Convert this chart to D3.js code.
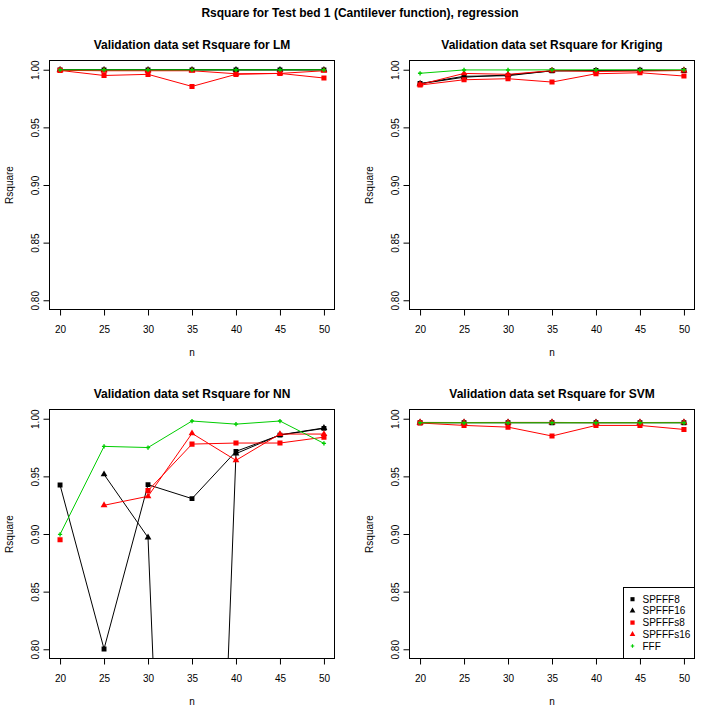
<!DOCTYPE html>
<html>
<head>
<meta charset="utf-8">
<script src="https://cdn.jsdelivr.net/npm/d3@7"></script>
<style>
  body { margin: 0; background: #fff; }
  svg { display: block; font-family: "Liberation Sans", Arial, sans-serif; }
</style>
</head>
<body>
<svg id="chart" width="720" height="720"></svg>
<script>
// x values (training sample size) and y ticks
const nValues = [20, 25, 30, 35, 40, 45, 50];
const yTicks = [0.80, 0.85, 0.90, 0.95, 1.00];

const seriesNames = ["SPFFF8", "SPFFF16", "SPFFFs8", "SPFFFs16", "FFF"];
const seriesColors = ["#000000", "#000000", "#ff0000", "#ff0000", "#00cd00"];

const mainTitle = "Rsquare for Test bed 1 (Cantilever function), regression";
const panelTitles = [
  "Validation data set Rsquare for LM",
  "Validation data set Rsquare for Kriging",
  "Validation data set Rsquare for NN",
  "Validation data set Rsquare for SVM"
];

// LM
const lmSPFFF8   = [0.9999, 0.9999, 0.9999, 0.9999, 0.9999, 0.9999, 0.9999];
const lmSPFFF16  = [0.9999, 0.9998, 0.9999, 0.9999, 0.9999, 0.9999, 0.9999];
const lmSPFFFs8  = [0.9994, 0.9950, 0.9960, 0.9855, 0.9960, 0.9968, 0.9928];
const lmSPFFFs16 = [0.9995, 0.9991, 0.9991, 0.9991, 0.9965, 0.9968, 0.9991];
const lmFFF      = [0.9999, 0.9999, 0.9999, 0.9999, 0.9999, 0.9999, 0.9999];

// Kriging
const krSPFFF8   = [0.9880, 0.9943, 0.9948, 0.9991, 0.9994, 0.9995, 0.9993];
const krSPFFF16  = [0.9878, 0.9935, 0.9955, 0.9990, 0.9992, 0.9994, 0.9994];
const krSPFFFs8  = [0.9867, 0.9913, 0.9922, 0.9893, 0.9965, 0.9974, 0.9945];
const krSPFFFs16 = [0.9872, 0.9968, 0.9960, 0.9992, 0.9985, 0.9988, 0.9993];
const krFFF      = [0.9969, 0.9998, 0.9998, 0.9999, 0.9999, 0.9999, 0.9999];

// NN (null = missing run)
const nnSPFFF8   = [0.9425, 0.8003, 0.9428, 0.9307, 0.9717, 0.9858, 0.9916];
const nnSPFFF16  = [null, 0.9517, 0.8970, -0.0400, 0.9697, 0.9860, 0.9920];
const nnSPFFFs8  = [0.8950, null, 0.9376, 0.9780, 0.9789, 0.9789, 0.9840];
const nnSPFFFs16 = [null, 0.9249, 0.9327, 0.9873, 0.9639, 0.9867, 0.9867];
const nnFFF      = [0.8997, 0.9760, 0.9750, 0.9980, 0.9953, 0.9980, 0.9786];

// SVM
const svSPFFF8   = [0.9965, 0.9965, 0.9965, 0.9965, 0.9965, 0.9965, 0.9965];
const svSPFFF16  = [0.9967, 0.9967, 0.9967, 0.9967, 0.9967, 0.9967, 0.9967];
const svSPFFFs8  = [0.9963, 0.9942, 0.9927, 0.9850, 0.9942, 0.9942, 0.9907];
const svSPFFFs16 = [0.9968, 0.9967, 0.9968, 0.9968, 0.9966, 0.9967, 0.9968];
const svFFF      = [0.9965, 0.9965, 0.9965, 0.9965, 0.9965, 0.9965, 0.9965];

const panelSeries = [
  [lmSPFFF8, lmSPFFF16, lmSPFFFs8, lmSPFFFs16, lmFFF],
  [krSPFFF8, krSPFFF16, krSPFFFs8, krSPFFFs16, krFFF],
  [nnSPFFF8, nnSPFFF16, nnSPFFFs8, nnSPFFFs16, nnFFF],
  [svSPFFF8, svSPFFF16, svSPFFFs8, svSPFFFs16, svFFF]
];

// marker shapes like R pch 15 / 17 / 15 / 17 / 3
const shapes = [d3.symbolSquare, d3.symbolTriangle, d3.symbolSquare, d3.symbolTriangle, d3.symbolCross];
const shapeSizes = [24, 20, 26, 20, 10];

const svg = d3.select("#chart");

// layout of the 2x2 grid
const colLeft = [49.5, 409.5];
const rowTop = [60.5, 409.5];
const plotW = 285;
const plotH = 249;

svg.append("text")
  .attr("x", 360).attr("y", 17)
  .attr("text-anchor", "middle")
  .attr("font-size", 12).attr("font-weight", 700)
  .text(mainTitle);

panelSeries.forEach((seriesList, i) => {
  const left = colLeft[i % 2];
  const top = rowTop[Math.floor(i / 2)];

  // R pads the range by 4% on each side
  const x = d3.scaleLinear().domain([18.8, 51.2]).range([left, left + plotW]);
  const y = d3.scaleLinear().domain([0.792, 1.008]).range([top + plotH, top]);

  const g = svg.append("g");

  // clip region = the plot box
  const clipId = "clip" + i;
  svg.append("clipPath").attr("id", clipId)
    .append("rect")
    .attr("x", left).attr("y", top)
    .attr("width", plotW).attr("height", plotH);

  const plotArea = g.append("g").attr("clip-path", `url(#${clipId})`);

  const line = d3.line()
    .defined(d => d.v !== null)
    .x(d => x(d.n))
    .y(d => y(d.v));

  seriesList.forEach((vals, s) => {
    const pts = nValues.map((n, k) => ({ n, v: vals[k] }));

    plotArea.append("path")
      .datum(pts)
      .attr("fill", "none")
      .attr("stroke", seriesColors[s])
      .attr("stroke-width", 1)
      .attr("d", line);

    plotArea.selectAll(null)
      .data(pts.filter(d => d.v !== null))
      .join("path")
      .attr("transform", d => `translate(${x(d.n)},${y(d.v)})`)
      .attr("fill", seriesColors[s])
      .attr("d", d3.symbol(shapes[s], shapeSizes[s]));
  });

  // box
  g.append("rect")
    .attr("x", left).attr("y", top)
    .attr("width", plotW).attr("height", plotH)
    .attr("fill", "none").attr("stroke", "#000").attr("stroke-width", 1);

  // x axis
  const xAxis = g.append("g")
    .attr("transform", `translate(0,${top + plotH})`)
    .call(d3.axisBottom(x).tickValues(nValues).tickSize(6).tickPadding(10));
  xAxis.select(".domain").remove();
  xAxis.selectAll("text").attr("font-size", 10).attr("font-family", null).attr("fill", "#000");

  // y axis with vertical labels
  const yAxis = g.append("g")
    .attr("transform", `translate(${left},0)`)
    .call(d3.axisLeft(y).tickValues(yTicks).tickSize(6).tickFormat(d3.format(".2f")));
  yAxis.select(".domain").remove();
  yAxis.selectAll("text")
    .attr("x", null).attr("dy", null)
    .attr("font-size", 10).attr("font-family", null).attr("fill", "#000")
    .attr("text-anchor", "middle")
    .attr("dominant-baseline", "central")
    .attr("transform", "translate(-14,0) rotate(-90)");

  // titles
  g.append("text")
    .attr("x", left + plotW / 2).attr("y", top - 12)
    .attr("text-anchor", "middle")
    .attr("font-size", 12).attr("font-weight", 700)
    .text(panelTitles[i]);

  g.append("text")
    .attr("x", left + plotW / 2).attr("y", top + plotH + 46)
    .attr("text-anchor", "middle")
    .attr("font-size", 10)
    .text("n");

  g.append("text")
    .attr("transform", `translate(${left - 40},${top + plotH / 2}) rotate(-90)`)
    .attr("text-anchor", "middle")
    .attr("dominant-baseline", "central")
    .attr("font-size", 10)
    .text("Rsquare");

  // legend sits in the bottom-right corner of the SVM panel
  if (i === 3) {
    const lw = 71, lh = 71, rowGap = 11.7;
    const lx = left + plotW - lw, ly = top + plotH - lh;
    const leg = g.append("g");
    leg.append("rect")
      .attr("x", lx).attr("y", ly).attr("width", lw).attr("height", lh)
      .attr("fill", "#fff").attr("stroke", "#000");
    seriesNames.forEach((name, s) => {
      const cy = ly + rowGap * (s + 1);
      leg.append("path")
        .attr("transform", `translate(${lx + 9},${cy})`)
        .attr("fill", seriesColors[s])
        .attr("d", d3.symbol(shapes[s], shapeSizes[s] * 0.7));
      leg.append("text")
        .attr("x", lx + 19).attr("y", cy)
        .attr("dominant-baseline", "central")
        .attr("font-size", 10)
        .text(name);
    });
  }
});
</script>
</body>
</html>
